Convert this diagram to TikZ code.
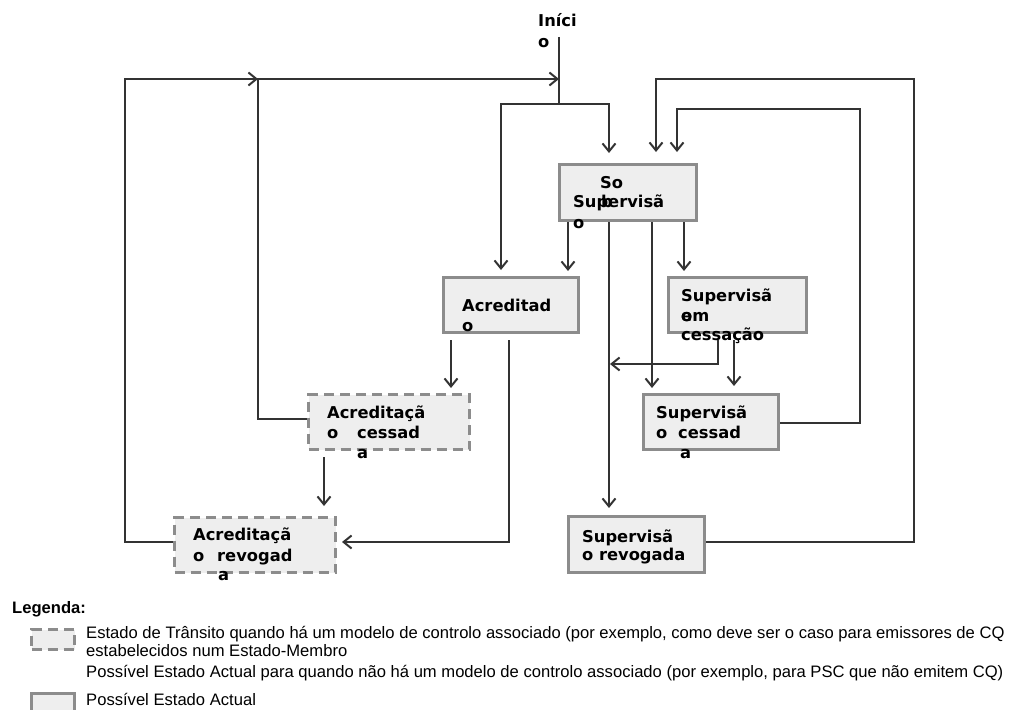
\documentclass[tikz,border=0pt]{standalone}
\usepackage{fontspec}
\setmainfont{Liberation Sans}
\newfontfamily\boxfont{DejaVu Sans}
\usetikzlibrary{arrows.meta}
\definecolor{lnc}{HTML}{333333}
\definecolor{bdc}{HTML}{8C8C8C}
\definecolor{flc}{HTML}{EEEEEE}
\tikzset{
  statebox/.style={draw=bdc, fill=flc, line width=3pt, anchor=north west, inner sep=0pt},
  transbox/.style={statebox, dash pattern=on 10pt off 6pt},
  lbl/.style={anchor=base west, inner sep=0pt, font=\boxfont\bfseries\fontsize{16.3}{18}\selectfont, text=black},
  leg/.style={anchor=base west, inner sep=0pt, font=\fontsize{16.6}{19}\selectfont, text=black},
  conn/.style={draw=lnc, line width=2pt},
  arr/.style={conn, -{Straight Barb[length=8pt,width=13pt,line width=2pt]}}
}
\begin{document}
\begin{tikzpicture}[x=1pt,y=-1pt]
\useasboundingbox (0,0) rectangle (1014,709);
% boxes
\node[statebox, minimum width=137pt, minimum height=56pt] (sup) at (558,163) {};
\node[statebox, minimum width=135pt, minimum height=55pt] (acr) at (442,276) {};
\node[statebox, minimum width=138pt, minimum height=55pt] (supem) at (667,276) {};
\node[statebox, minimum width=135pt, minimum height=55pt] (supces) at (642,393) {};
\node[transbox, minimum width=161pt, minimum height=55pt] (acrces) at (307,393) {};
\node[transbox, minimum width=161pt, minimum height=55pt] (acrrev) at (173,516) {};
\node[statebox, minimum width=136pt, minimum height=56pt] (suprev) at (567,515) {};
% texts
\node[lbl] (t0a) at (538,27) {Iníci};
\node[lbl] (t0b) at (538,48) {o};
\node[lbl] (t1a) at (600,188) {So};
\node[lbl] (t1b) at (573,207) {Supervisã};
\node[lbl] (t1c) at (601,207) {b};
\node[lbl] (t1d) at (573,228) {o};
\node[lbl] (t2a) at (462,311) {Acreditad};
\node[lbl] (t2b) at (462,331) {o};
\node[lbl] (t3a) at (681,301) {Supervisã};
\node[lbl] (t3b) at (681,321) {em};
\node[lbl] (t3c) at (681,321) {o};
\node[lbl] (t3d) at (681,340) {cessação};
\node[lbl] (t4a) at (656,418) {Supervisã};
\node[lbl] (t4b) at (656,438) {o};
\node[lbl] (t4c) at (678,438) {cessad};
\node[lbl] (t4d) at (680,458) {a};
\node[lbl] (t5a) at (327,418) {Acreditaçã};
\node[lbl] (t5b) at (327,438) {o};
\node[lbl] (t5c) at (357,438) {cessad};
\node[lbl] (t5d) at (357,458) {a};
\node[lbl] (t6a) at (193,540) {Acreditaçã};
\node[lbl] (t6b) at (193,561) {o};
\node[lbl] (t6c) at (217,561) {revogad};
\node[lbl] (t6d) at (218,580) {a};
\node[lbl] (t7a) at (582,542) {Supervisã};
\node[lbl] (t7b) at (582,560) {o revogada};
% start coordinates
\coordinate (st) at (559,37);
\coordinate (stj) at (559,104);
\coordinate (stm) at (559,79);
% start line and splits
\draw[conn] (st) -- (stj);
\draw[arr] (stj) -- (501,104) -- (501,270);
\draw[arr] (stj) -- (609,104) -- (609,153);
% returns from Acreditacao cessada / revogada
\coordinate (j1) at (258,79);
\draw[arr] (acrces.west |- 0,419) -- (258,419) -- (j1) -- (stm);
\draw[arr] (acrrev.west |- 0,542) -- (125,542) -- (125,79) -- (j1);
% from Sob Supervisao
\draw[arr] (568,222) -- (568,271);
\draw[arr] (684,222) -- (684,271);
\draw[arr] (652,222) -- (652,388);
\draw[arr] (609,222) -- (609,508);
% from Acreditado
\draw[arr] (451,340) -- (451,388);
\draw[arr] (509,340) -- (509,542) -- (342,542);
% from Acreditacao cessada
\draw[arr] (324,457) -- (324,506);
% from Supervisao em cessacao
\draw[arr] (718,340) -- (718,364) -- (610,364);
\draw[arr] (734,340) -- (734,386);
% right loops
\draw[arr] (suprev.east |- 0,542) -- (914,542) -- (914,79) -- (656,79) -- (656,152);
\draw[arr] (supces.east |- 0,423) -- (860,423) -- (860,109) -- (677,109) -- (677,152);
% legend
\node[leg, font=\bfseries\fontsize{16.6}{19}\selectfont] (lg) at (12,613) {Legenda:};
\node[transbox, minimum width=43pt, minimum height=20pt] (ic1) at (30,628) {};
\node[leg] (l1) at (86,638) {Estado de Trânsito quando há um modelo de controlo associado (por exemplo, como deve ser o caso para emissores de CQ};
\node[leg] (l2) at (86,656) {estabelecidos num Estado-Membro};
\node[leg] (l3) at (86,677) {Possível Estado Actual para quando não há um modelo de controlo associado (por exemplo, para PSC que não emitem CQ)};
\node[statebox, minimum width=43pt, minimum height=22pt] (ic2) at (30,692) {};
\node[leg] (l4) at (86,705) {Possível Estado Actual};
\end{tikzpicture}
\end{document}
